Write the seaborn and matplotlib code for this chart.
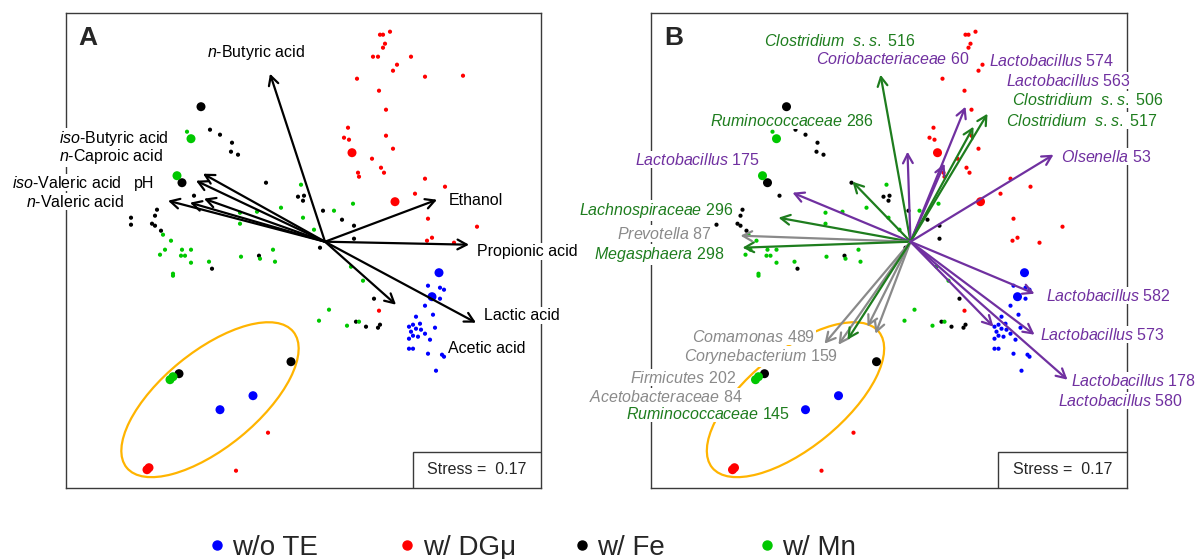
import numpy as np
import pandas as pd
import matplotlib
matplotlib.use("Agg")
import matplotlib.pyplot as plt
from matplotlib.patches import Ellipse, Rectangle
from matplotlib.lines import Line2D
import seaborn as sns

# ---------------- DATA -------------------------------------------------
treatments = ["w/o TE", "w/ DGμ", "w/ Fe", "w/ Mn"]

# NMDS site scores (x100); same ordination in A and B
wo_te_samples = [(103, -44), (115, -46), (119, -48), (100, -64), (115, -57), (108, -73),
                 (91, -75), (84, -85), (88, -83), (95, -82), (91, -87), (96, -88), (86, -90),
                 (100, -92), (88, -94), (93, -95), (105, -98), (84, -97), (110, -86),
                 (84, -107), (88, -107), (103, -112), (117, -113), (119, -115), (111, -129)]
wo_te_start = [(114, -31), (107, -55), (-72, -154), (-105, -168)]

dgmu_samples = [(55, 207), (58, 207), (65, 210), (60, 198), (58, 194), (48, 185), (53, 185),
                (86, 185), (72, 177), (68, 171), (32, 163), (100, 165), (138, 166), (54, 151),
                (61, 132), (23, 114), (19, 104), (24, 102), (61, 106), (68, 93), (47, 83),
                (56, 74), (59, 69), (33, 69), (34, 65), (100, 63), (120, 55), (90, 48),
                (103, 23), (152, 15), (102, 1), (107, 4), (129, -1), (54, -69), (-57, -191),
                (-89, -229)]
dgmu_start = [(27, 89), (70, 40), (-178, -228), (-176, -226)]

fe_samples = [(-115, 112), (-105, 107), (-93, 99), (-94, 90), (-87, 87), (-59, 59), (-27, 45),
              (-21, 46), (-22, 41), (-131, 46), (-168, 32), (-170, 26), (-194, 24), (-194, 17),
              (-173, 18), (-170, 16), (-164, 11), (-2, 31), (17, 22), (29, 16), (29, 3),
              (-5, -6), (-66, -14), (-113, -27), (49, -57), (31, -80), (41, -85), (53, -86),
              (55, -83)]
fe_start = [(-124, 135), (-143, 59), (-146, -132), (-34, -120)]

mn_samples = [(-138, 110), (-24, 57), (28, 38), (9, 31), (-44, 34), (-22, 24), (-85, 29),
              (-85, 18), (-68, 30), (-11, 12), (-162, 7), (-154, 1), (-160, -8), (-165, -13),
              (-143, -8), (-134, -8), (-144, -14), (-140, -14), (-134, -21), (-116, -20),
              (-152, -32), (-152, -34), (-84, -15), (-65, -17), (-52, -8), (-50, -20),
              (26, -25), (38, -39), (4, -68), (-6, -79), (22, -84), (34, -80)]
mn_start = [(-134, 103), (-148, 66), (-155, -138), (-152, -135)]

# confidence ellipse around the start samples: centre, axes, angle
ellipse_center = (-115, -158)
ellipse_axes = (215, 96)
ellipse_angle = 39.2

# Panel A: fitted environmental vectors
env_names = ["$\\mathit{n}$-Butyric acid", "$\\mathit{iso}$-Butyric acid", "$\\mathit{n}$-Caproic acid",
             "$\\mathit{iso}$-Valeric acid", "pH", "$\\mathit{n}$-Valeric acid", "Ethanol",
             "Propionic acid", "Lactic acid", "Acetic acid"]
env_x = [-55, -122, -129, -121, -135, -157, 112, 144, 151, 71]
env_y = [168, 68, 61, 43, 39, 41, 42, -3, -81, -63]

# Panel B: fitted OTU vectors
otu_names = ["$\\mathit{Clostridium\\ \\ s.s.}$ 516", "$\\mathit{Coriobacteriaceae}$ 60",
             "$\\mathit{Lactobacillus}$ 574", "$\\mathit{Lactobacillus}$ 563",
             "$\\mathit{Clostridium\\ \\ s.s.}$ 506", "$\\mathit{Clostridium\\ \\ s.s.}$ 517",
             "$\\mathit{Ruminococcaceae}$ 286", "$\\mathit{Olsenella}$ 53",
             "$\\mathit{Lactobacillus}$ 175", "$\\mathit{Lachnospiraceae}$ 296",
             "$\\mathit{Prevotella}$ 87", "$\\mathit{Megasphaera}$ 298",
             "$\\mathit{Comamonas}$ 489", "$\\mathit{Corynebacterium}$ 159",
             "$\\mathit{Firmicutes}$ 202", "$\\mathit{Acetobacteraceae}$ 84",
             "$\\mathit{Ruminococcaceae}$ 145", "$\\mathit{Lactobacillus}$ 582",
             "$\\mathit{Lactobacillus}$ 573", "$\\mathit{Lactobacillus}$ 178",
             "$\\mathit{Lactobacillus}$ 580"]
otu_x = [-30, -3, 55, 34, 77, 63, -58, 143, -118, -132, -170, -168, -86, -72, -43, -35, -63,
         124, 124, 157, 83]
otu_y = [167, 90, 135, 78, 128, 115, 60, 87, 49, 24, 6, -6, -102, -103, -85, -92, -98,
         -52, -93, -138, -85]
otu_group = ["up", "lac", "lac", "lac", "up", "up", "up", "lac", "lac", "up", "other", "up",
             "other", "other", "other", "other", "up", "lac", "lac", "lac", "lac"]

stress_value = 0.17

# ---------------- LAYOUT / STYLE ---------------------------------------
point_colors = dict(zip(treatments, ["#0000FF", "#FF0000", "#000000", "#00C800"]))
group_colors = {"up": "#1E7D1E", "lac": "#7030A0", "other": "#8A8A8A"}

env_label_pos = [(-69, 189, "center"), (-157, 103, "right"), (-162, 85, "right"),
                 (-204, 59, "right"), (-191, 58, "left"), (-201, 40, "right"),
                 (124, 41, "left"), (152, -10, "left"), (159, -74, "left"), (123, -107, "left")]
otu_label_pos = [(5, 201, "right"), (59, 183, "right"), (79, 181, "left"), (96, 161, "left"),
                 (102, 142, "left"), (96, 121, "left"), (-37, 121, "right"), (151, 85, "left"),
                 (-151, 82, "right"), (-177, 31, "right"), (-199, 8, "right"),
                 (-186, -13, "right"), (-95, -95, "right"), (-73, -115, "right"),
                 (-174, -136, "right"), (-168, -155, "right"), (-120, -172, "right"),
                 (136, -54, "left"), (130, -93, "left"), (160, -139, "left"),
                 (148, -159, "left")]
legend_x = [0.1742, 0.3336, 0.4794, 0.6343]   # left edge of each legend entry (figure fraction)

sns.set_style("white")
plt.rcParams["font.family"] = ["Liberation Sans", "DejaVu Sans"]
plt.rcParams["mathtext.fontset"] = "custom"
plt.rcParams["mathtext.it"] = "Liberation Sans:italic"
plt.rcParams["mathtext.rm"] = "Liberation Sans"
plt.rcParams["mathtext.default"] = "regular"

rows = []
for name, samples in zip(treatments, [wo_te_samples, dgmu_samples, fe_samples, mn_samples]):
    for (x, y) in samples:
        rows.append((x, y, name, "sample"))
for name, starts in zip(treatments, [wo_te_start, dgmu_start, fe_start, mn_start]):
    for (x, y) in starts:
        rows.append((x, y, name, "start"))
df = pd.DataFrame(rows, columns=["NMDS1", "NMDS2", "treatment", "kind"])

fig = plt.figure(figsize=(11.96, 5.59), dpi=100)
axA = fig.add_axes([0.05518, 0.12612, 0.39716, 0.85009])
axB = fig.add_axes([0.54473, 0.12612, 0.39716, 0.85009])

FS = 11.5


def base_panel(ax, letter):
    ax.add_patch(Ellipse(ellipse_center, ellipse_axes[0], ellipse_axes[1], angle=ellipse_angle,
                         fill=False, edgecolor="#FFB400", lw=1.6, zorder=1.5))
    sns.scatterplot(data=df, x="NMDS1", y="NMDS2", hue="treatment", palette=point_colors,
                    size="kind", sizes={"sample": 9, "start": 42}, linewidth=0,
                    legend=False, ax=ax, zorder=3)
    ax.set_xlim(-259, 216)
    ax.set_ylim(-246.8, 228.4)
    ax.set_xticks([])
    ax.set_yticks([])
    ax.set_xlabel("")
    ax.set_ylabel("")
    for sp in ax.spines.values():
        sp.set_visible(True)
        sp.set_color("#3a3a3a")
        sp.set_linewidth(1.0)
    ax.text(0.046, 0.947, letter, transform=ax.transAxes, ha="center", va="center",
            fontsize=19, fontweight="bold", zorder=6)
    ax.add_patch(Rectangle((0.730, 0.0), 0.27, 0.0775, transform=ax.transAxes,
                           facecolor="white", edgecolor="#3a3a3a", lw=1.0, zorder=6))
    ax.text(0.865, 0.039, f"Stress =  {stress_value:.2f}", transform=ax.transAxes,
            ha="center", va="center", fontsize=FS, zorder=7)


def arrow(ax, x, y, color):
    ax.annotate("", xy=(x, y), xytext=(0, 0),
                arrowprops=dict(arrowstyle="->,head_length=0.6,head_width=0.32",
                                color=color, lw=1.6, shrinkA=0, shrinkB=0,
                                mutation_scale=11),
                zorder=4)


base_panel(axA, "A")
for x, y in zip(env_x, env_y):
    arrow(axA, x, y, "black")
for name, (lx, ly, ha) in zip(env_names, env_label_pos):
    axA.text(lx, ly, name, ha=ha, va="center", fontsize=FS, color="black", zorder=5,
             clip_on=False, bbox=dict(boxstyle="square,pad=0.05", facecolor="white",
                                      edgecolor="none"))

base_panel(axB, "B")
for x, y, g in zip(otu_x, otu_y, otu_group):
    arrow(axB, x, y, group_colors[g])
for name, g, (lx, ly, ha) in zip(otu_names, otu_group, otu_label_pos):
    axB.text(lx, ly, name, ha=ha, va="center", fontsize=FS, color=group_colors[g], zorder=5,
             clip_on=False, bbox=dict(boxstyle="square,pad=0.05", facecolor="white",
                                      edgecolor="none"))

for t, lx in zip(treatments, legend_x):
    h = Line2D([], [], marker="o", linestyle="", color=point_colors[t], markersize=6.5)
    fig.legend([h], [t], loc="center left", bbox_to_anchor=(lx, 0.02),
               frameon=False, fontsize=20, handlelength=0.6, handletextpad=0.26,
               borderpad=0, borderaxespad=0)

fig.savefig("out.png", dpi=100)
